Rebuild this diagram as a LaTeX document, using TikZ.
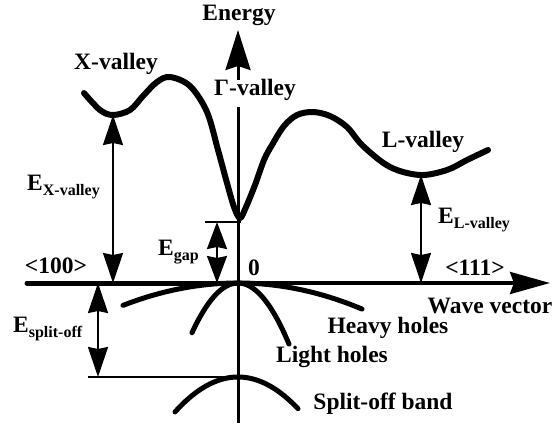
\documentclass[tikz,border=0pt]{standalone}
\usepackage{fontspec}
\setmainfont{Liberation Serif}
\usetikzlibrary{arrows.meta}
\newcommand\Esub[1]{E\raisebox{-5pt}{\fontsize{16}{16}\selectfont #1}}
\begin{document}
\begin{tikzpicture}[x=1pt,y=-1pt,
  lbl/.style={font=\fontsize{23.5}{23.5}\selectfont\bfseries, inner sep=0pt},
  band/.style={line width=6pt, line cap=round},
  hole/.style={line width=5pt, line cap=round},
  dimarrow/.style={line width=2pt, {Stealth[length=30pt,width=20pt,inset=2pt]}-{Stealth[length=30pt,width=20pt,inset=2pt]}},
  gaparrow/.style={line width=2pt, {Stealth[length=27pt,width=20pt,inset=2pt]}-{Stealth[length=27pt,width=20pt,inset=2pt]}},
  thin/.style={line width=2.5pt}]
\useasboundingbox (0,0) rectangle (560,426);

% coordinates
\coordinate (xmin) at (113,115);
\coordinate (xbase) at (113,283);
\coordinate (lmin) at (421,175);
\coordinate (lbase) at (421,283);
\coordinate (gtop) at (217,222);
\coordinate (gbot) at (217,283);
\coordinate (gl) at (205,222);
\coordinate (gr) at (241,222);
\coordinate (stop) at (98,283);
\coordinate (sbot) at (98,377);
\coordinate (sl) at (88,377);
\coordinate (sr) at (238,377);
\coordinate (axl) at (27,283);
\coordinate (axo) at (238,283);
\coordinate (axr) at (550,283);
\coordinate (vtop) at (238,30);
\coordinate (vshaft) at (238,80);
\coordinate (vlow) at (238,107);
\coordinate (vbot) at (238,423);

% axes
\draw[line width=3pt] (vlow) -- (vbot);
\draw[line width=3pt, -{Stealth[length=40pt,width=25pt,inset=4pt]}] (vshaft) -- (vtop);
\draw[line width=5pt, line cap=round] (axl) -- (axo);
\draw[line width=3.5pt, -{Stealth[length=40pt,width=22pt,inset=4pt]}] (axo) -- (axr);

% conduction band
\draw[band] plot[smooth, tension=0.55] coordinates {
 (84,93) (100,110) (113,115) (130,110) (143,96) (157,82) (170,77) (190,86)
 (207,112) (218,150) (227,183) (234,207) (240,218) (246,207) (255,185)
 (264,160) (272,145) (284,126) (297,115) (313,112) (330,116) (347,127)
 (363,146) (390,167) (420,175) (447,170) (467,160) (488,150)};

% valence bands
\draw[hole] plot[domain=-115:124, samples=60] ({238+\x},{283+0.0017*\x*\x});
\draw[hole] plot[domain=-46:51, samples=50] ({238+\x},{283+0.0235*\x*\x});
\draw[hole] plot[domain=-63:60, samples=50] ({238+\x},{377+0.0088*\x*\x});

% dimension arrows
\draw[dimarrow] (xmin) -- (xbase);
\draw[dimarrow] (lmin) -- (lbase);
\draw[gaparrow] (gtop) -- (gbot);
\draw[dimarrow] (stop) -- (sbot);
\draw[thin] (gl) -- (gr);
\draw[thin] (sl) -- (sr);

% labels
\node[lbl] (energy) at (239,15) {Energy};
\node[lbl] (xval) at (116,64) {X-valley};
\node[lbl] (gval) at (255,90) {Γ-valley};
\node[lbl] (lval) at (423,142) {L-valley};
\node[lbl, anchor=base west] (ex) at (27,190) {\Esub{X-valley}};
\node[lbl, anchor=base west] (eg) at (158,255) {\Esub{gap}};
\node[lbl, anchor=base west] (el) at (438,223) {\Esub{L-valley}};
\node[lbl, anchor=base west] (es) at (13,332) {\Esub{split-off}};
\node[lbl] (zero) at (254,268) {0};
\node[lbl] (d100) at (56,266) {<100>};
\node[lbl] (d111) at (475,268) {<111>};
\node[lbl] (wv) at (490,306) {Wave vector};
\node[lbl] (hh) at (388,328) {Heavy holes};
\node[lbl] (lh) at (332,357) {Light holes};
\node[lbl] (so) at (383,404) {Split-off band};
\end{tikzpicture}
\end{document}
